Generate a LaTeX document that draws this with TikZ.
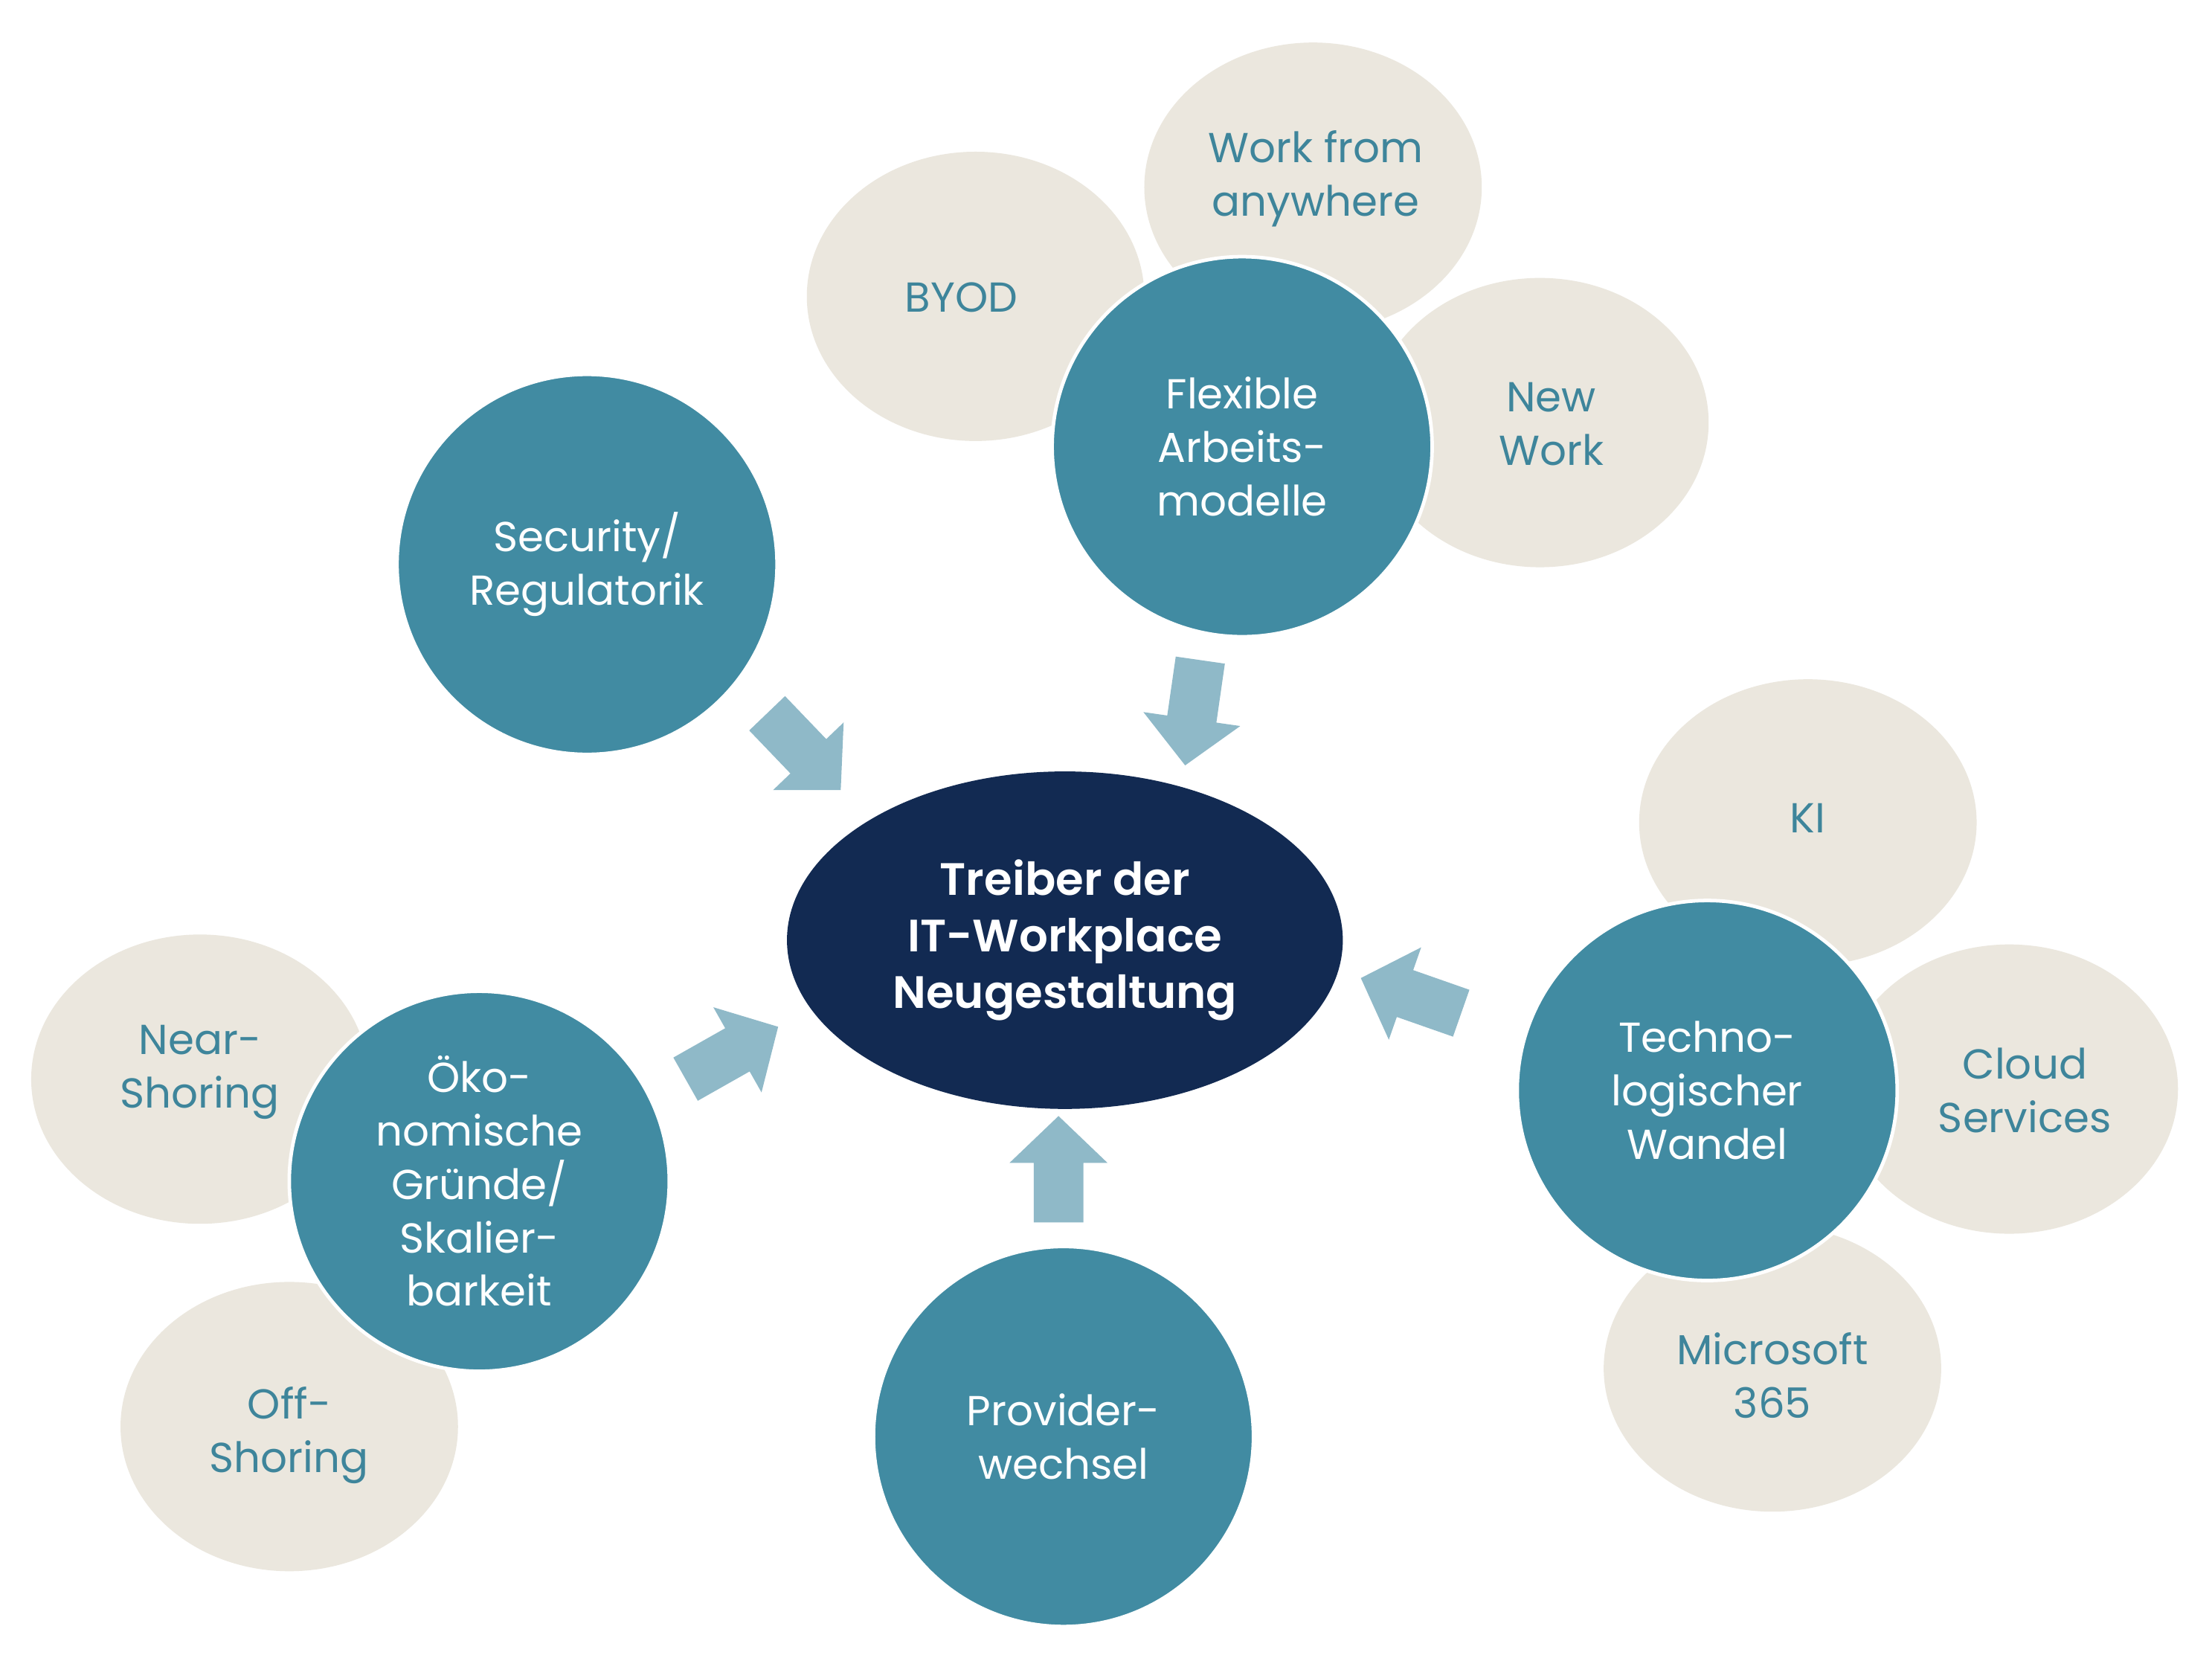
\documentclass[tikz,border=0pt]{standalone}
\usepackage{fontspec}
\setmainfont{Poppins}
\newfontfamily\semib{Poppins SemiBold}
\usetikzlibrary{shapes.geometric}
\definecolor{tealc}{RGB}{65,139,162}
\definecolor{beigec}{RGB}{235,231,222}
\definecolor{navyc}{RGB}{18,42,82}
\definecolor{arrowc}{RGB}{143,185,200}
\definecolor{btextc}{RGB}{62,133,155}
\tikzset{
  bigcirc/.style={circle, fill=tealc, draw=white, line width=0.25mm, minimum size=26.8mm, inner sep=0pt, align=center, text=white, font=\fontsize{8.4}{10.7}\selectfont},
  btext/.style={align=center, text=btextc, inner sep=0pt, font=\fontsize{8.4}{10.7}\selectfont},
  centre/.style={ellipse, fill=navyc, minimum width=39.2mm, minimum height=23.8mm, inner sep=0pt, align=center, text=white, font=\semib\fontsize{9.1}{11.4}\selectfont},
  bigarrow/.pic={\fill[arrowc] (0,-17.5)--(42,-17.5)--(42,-34.5)--(75,0)--(42,34.5)--(42,17.5)--(0,17.5)--cycle;}
}
\begin{document}
\begin{tikzpicture}[x=0.1mm,y=-0.1mm]
\useasboundingbox (0,0) rectangle (1560,1171);
\fill[white] (0,0) rectangle (1560,1171);
% beige ellipses
\fill[beigec] (688,209) ellipse [x radius=11.9mm, y radius=10.2mm];
\fill[beigec] (926,132) ellipse [x radius=11.9mm, y radius=10.2mm];
\fill[beigec] (1086,298) ellipse [x radius=11.9mm, y radius=10.2mm];
\fill[beigec] (1275,580) ellipse [x radius=11.9mm, y radius=10.1mm];
\fill[beigec] (1417,768) ellipse [x radius=11.9mm, y radius=10.2mm];
\fill[beigec] (1250,965) ellipse [x radius=11.9mm, y radius=10.1mm];
\fill[beigec] (141,761) ellipse [x radius=11.9mm, y radius=10.2mm];
\fill[beigec] (204,1006) ellipse [x radius=11.9mm, y radius=10.2mm];
% beige texts
\node[btext] (byod) at (678,210) {BYOD};
\node[btext] (wfa) at (928,126) {Work from\\anywhere};
\node[btext] (nw) at (1094,299) {New\\Work};
\node[btext] (ki) at (1275,577) {KI};
\node[btext] (cs) at (1428,769) {Cloud\\Services};
\node[btext] (ms) at (1250,970) {Microsoft\\365};
\node[btext] (ns) at (141,756) {Near-\\Shoring};
\node[btext] (os) at (204,1012) {Off-\\Shoring};
% teal circles
\node[bigcirc] (sec) at (414,398) {Security/\\Regulatorik};
\node[bigcirc] (flex) at (876,315) {Flexible\\Arbeits-\\modelle};
\node[bigcirc] (tech) at (1204,769) {Techno-\\logischer\\Wandel};
\node[bigcirc] (oeko) at (338,833) {Öko-\\nomische\\Gründe/\\Skalier-\\barkeit};
\node[bigcirc] (prov) at (750,1013) {Provider-\\wechsel};
% centre
\node[centre] (ctr) at (751,663) {Treiber der\\IT-Workplace\\Neugestaltung};
% arrows
\pic[rotate=-98.2] (a1) at (846.5,465.5) {bigarrow};
\pic[rotate=-46.2] (a2) at (541,503) {bigarrow};
\pic[rotate=29.5] (a3) at (483.5,761) {bigarrow};
\pic[rotate=160.7] (a4) at (1030.5,714.5) {bigarrow};
\pic[rotate=90] (a5) at (746.5,862) {bigarrow};
\end{tikzpicture}
\end{document}
